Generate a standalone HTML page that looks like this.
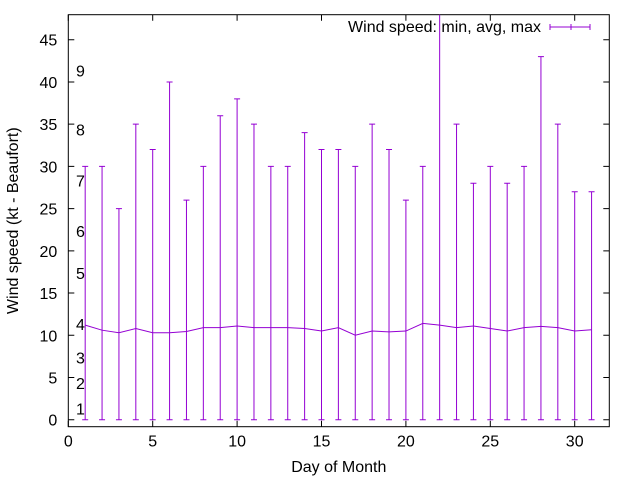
<!DOCTYPE html>
<html><head><meta charset="utf-8"><style>
body{margin:0;background:#fff}
svg{display:block;font-family:"Liberation Sans",Arial,sans-serif}
</style></head><body>
<svg id="chart" width="640" height="480" viewBox="0 0 640 480" xmlns="http://www.w3.org/2000/svg">
<defs><clipPath id="plotclip"><rect x="68.3" y="14.7" width="541" height="412"/></clipPath></defs>
<g id="axes"></g>
<g id="marks" clip-path="url(#plotclip)"></g>
<g id="legend">
<text x="541" y="32" font-size="16" text-anchor="end" fill="#000">Wind speed: min, avg, max</text>
<g stroke="#9400d3" stroke-width="1">
<line x1="550" y1="27" x2="590" y2="27"/><line x1="550" y1="24" x2="550" y2="30"/><line x1="571" y1="24" x2="571" y2="30"/><line x1="590" y1="24" x2="590" y2="30"/>
</g></g>
</svg>
<script>
const days=[1,2,3,4,5,6,7,8,9,10,11,12,13,14,15,16,17,18,19,20,21,22,23,24,25,26,27,28,29,30,31];
const minVals=[0,0,0,0,0,0,0,0,0,0,0,0,0,0,0,0,0,0,0,0,0,0,0,0,0,0,0,0,0,0,0];
const avgVals=[11.2,10.6,10.3,10.8,10.3,10.3,10.45,10.9,10.9,11.1,10.9,10.9,10.9,10.8,10.5,10.9,10.0,10.5,10.4,10.5,11.4,11.2,10.9,11.1,10.8,10.5,10.9,11.05,10.9,10.5,10.65];
const maxVals=[30,30,25,35,32,40,26,30,36,38,35,30,30,34,32,32,30,35,32,26,30,50,35,28,30,28,30,43,35,27,27];
const xTicks=[0,5,10,15,20,25,30];
const yTicks=[0,5,10,15,20,25,30,35,40,45];
const beaufortLevels=[1,4,7,11,17,22,28,34,41];
const beaufortLabels=["1","2","3","4","5","6","7","8","9"];

const NS="http://www.w3.org/2000/svg";
const X0=68.3,XS=16.88,Y0=419.7,YS=8.444;
const L=68.3,R=609.3,T=14.7,B=426.7;
const xs=d=>X0+d*XS, ys=v=>Y0-v*YS;
function mk(p,tag,attrs,txt){const e=document.createElementNS(NS,tag);for(const k in attrs)e.setAttribute(k,attrs[k]);if(txt!=null)e.textContent=txt;p.appendChild(e);return e;}
const ax=document.getElementById('axes'),mk_=document.getElementById('marks');
let fr=mk(ax,'rect',{x:L,y:T,width:R-L,height:B-T,fill:'none',stroke:'#000','stroke-width':1});


xTicks.forEach(t=>{
  const x=xs(t);
  let tk=mk(ax,'path',{d:`M${x},${B}v-6M${x},${T}v6`,stroke:'#000','stroke-width':1});
  
  
  let lb=mk(ax,'text',{x:x,y:B+20,'font-size':16,'text-anchor':'middle'},t);
  
  
});
yTicks.forEach(t=>{
  const y=ys(t);
  let tk=mk(ax,'path',{d:`M${L},${y}h6M${R},${y}h-6`,stroke:'#000','stroke-width':1});
  
  
  let lb=mk(ax,'text',{x:L-11,y:y+6,'font-size':16,'text-anchor':'end'},t);
  
  
});
beaufortLevels.forEach((v,i)=>{
  let lb=mk(ax,'text',{x:76,y:ys(v)+3,'font-size':16,'text-anchor':'start'},beaufortLabels[i]);
  
  
});
let xt=mk(ax,'text',{x:(L+R)/2,y:472,'font-size':16,'text-anchor':'middle'},'Day of Month');


let yt=mk(ax,'text',{x:0,y:0,'font-size':16,'text-anchor':'middle',transform:`translate(18,${(T+B)/2}) rotate(-90)`},'Wind speed (kt - Beaufort)');


let pts=days.map((d,i)=>`${xs(d)},${ys(avgVals[i])}`).join(' ');
let pl=mk(mk_,'polyline',{points:pts,fill:'none',stroke:'#9400d3','stroke-width':1});


days.forEach((d,i)=>{
  const x=xs(d),y1=ys(minVals[i]),y2=ys(maxVals[i]);
  let eb=mk(mk_,'path',{d:`M${x},${y1}V${y2}M${x-3},${y1}h6M${x-3},${y2}h6`,stroke:'#9400d3','stroke-width':1,fill:'none'});
  
  
});
</script>
</body></html>
